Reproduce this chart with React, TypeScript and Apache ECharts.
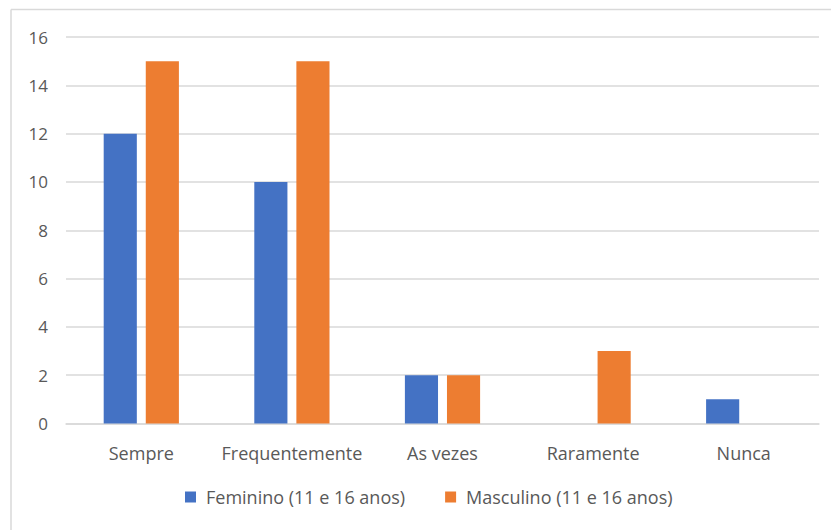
import React, { useEffect, useRef } from "react";
import * as echarts from "echarts";

const categories = ["Sempre", "Frequentemente", "As vezes", "Raramente", "Nunca"];
const feminino = [12, 10, 2, 0, 1];
const masculino = [15, 15, 2, 3, 0];
const seriesNames = ["Feminino (11 e 16 anos)", "Masculino (11 e 16 anos)"];

const FONT = "'Open Sans', 'Noto Sans', sans-serif";

export default function App() {
  const ref = useRef<HTMLDivElement>(null);
  useEffect(() => {
    if (!ref.current) return;
    const chart = echarts.init(ref.current, undefined, { renderer: "svg" });
    chart.setOption({
      animation: false,
      backgroundColor: "#ffffff",
      textStyle: { fontFamily: FONT },
      graphic: [
        { type: "line", shape: { x1: 11, y1: 9.5, x2: 831, y2: 9.5 }, style: { stroke: "#d9d9d9", lineWidth: 1.5 } },
        { type: "line", shape: { x1: 11, y1: 9.5, x2: 11, y2: 530 }, style: { stroke: "#d9d9d9", lineWidth: 1.5 } },
      ],
      grid: { left: 66, right: 12, top: 37, bottom: 106.5, containLabel: false },
      legend: {
        bottom: 19,
        left: 180,
        itemWidth: 11,
        itemHeight: 11,
        itemGap: 40,
        icon: "rect",
        textStyle: { color: "#595959", fontSize: 18, fontFamily: FONT, padding: [0, 0, 0, 5] },
        data: seriesNames,
      },
      xAxis: {
        type: "category",
        data: categories,
        axisLine: { lineStyle: { color: "#d9d9d9", width: 1.5 } },
        axisTick: { show: false },
        axisLabel: { color: "#595959", fontSize: 18, margin: 20, interval: 0, fontFamily: FONT },
      },
      yAxis: {
        type: "value",
        min: 0,
        max: 16,
        interval: 2,
        axisLine: { show: false },
        axisTick: { show: false },
        axisLabel: { color: "#595959", fontSize: 17, margin: 18, fontFamily: FONT },
        splitLine: { lineStyle: { color: "#d9d9d9", width: 1.5 } },
      },
      series: [
        {
          name: seriesNames[0],
          type: "bar",
          data: feminino,
          barWidth: "22%",
          barGap: "27%",
          itemStyle: { color: "#4472C4" },
        },
        {
          name: seriesNames[1],
          type: "bar",
          data: masculino,
          barWidth: "22%",
          itemStyle: { color: "#ED7D31" },
        },
      ],
    });
    return () => chart.dispose();
  }, []);
  return <div ref={ref} style={{ position: "absolute", left: 0, top: 0, width: 831, height: 530 }} />;
}
